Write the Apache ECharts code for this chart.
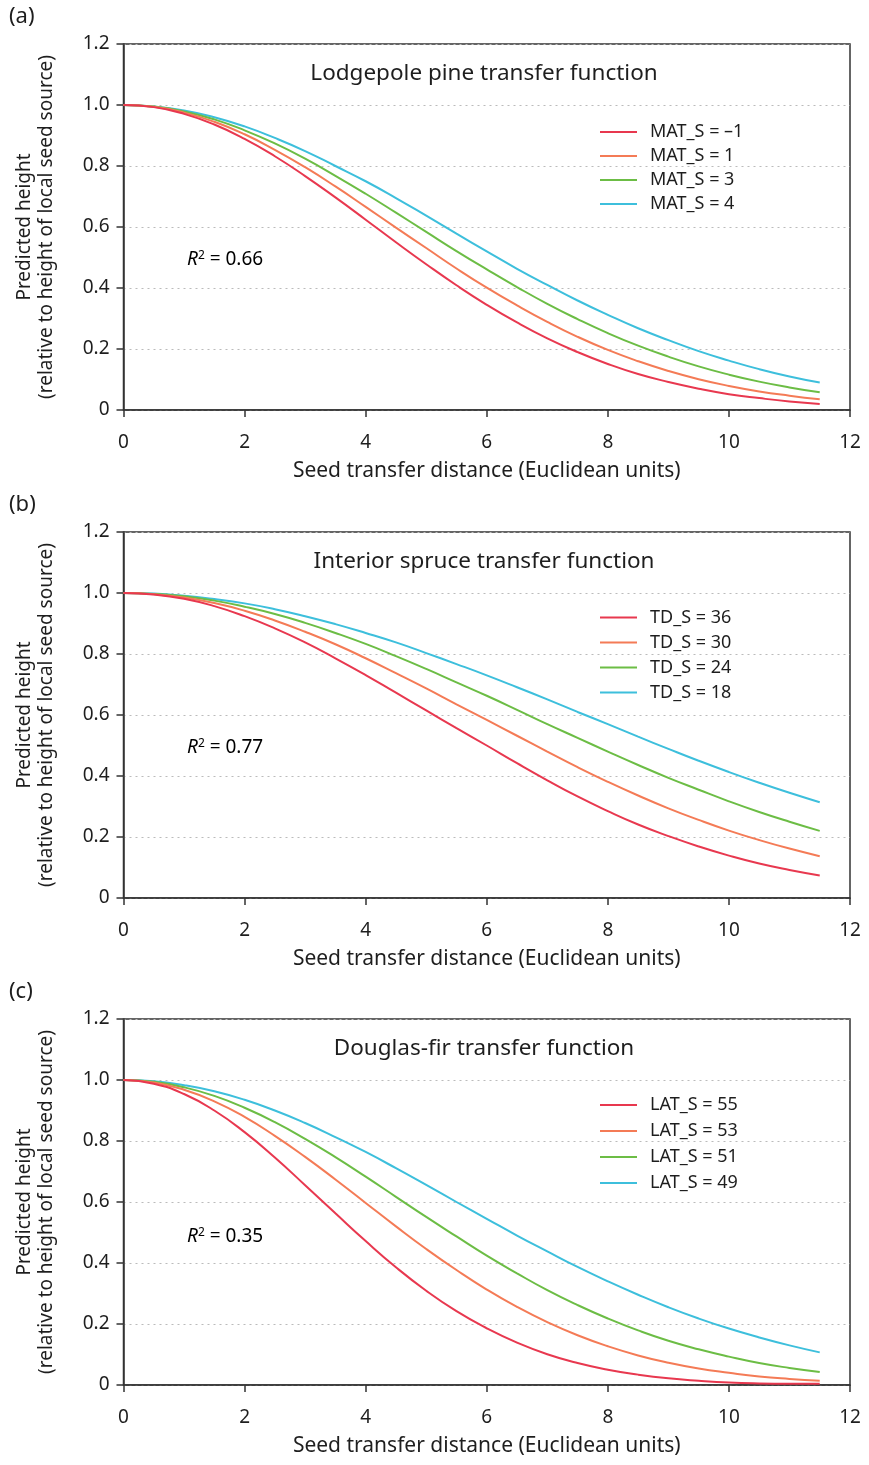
<!DOCTYPE html>
<html><head><meta charset="utf-8">
<script src="https://cdn.jsdelivr.net/npm/echarts@6/dist/echarts.min.js"></script>
<style>html,body{margin:0;padding:0;background:#fff}#c{width:869px;height:1465px}</style>
</head><body><div id="c"></div>
<script>
const distance = [0,0.5,1,1.5,2,2.5,3,3.5,4,4.5,5,5.5,6,6.5,7,7.5,8,8.5,9,9.5,10,10.5,11,11.5];
const xTicks = [0,2,4,6,8,10,12];
const yTicks = [0,0.2,0.4,0.6,0.8,1.0,1.2];

// (a) Lodgepole pine
const matNames = ['MAT_S = \u20131','MAT_S = 1','MAT_S = 3','MAT_S = 4'];
const matM1 = [1,0.993,0.971,0.936,0.889,0.832,0.767,0.697,0.624,0.550,0.478,0.409,0.345,0.287,0.235,0.190,0.151,0.118,0.092,0.070,0.052,0.039,0.028,0.020];
const mat1  = [1,0.994,0.975,0.945,0.904,0.853,0.796,0.733,0.666,0.598,0.531,0.464,0.401,0.343,0.289,0.240,0.197,0.160,0.128,0.101,0.079,0.061,0.047,0.035];
const mat3  = [1,0.995,0.979,0.953,0.917,0.874,0.824,0.768,0.709,0.647,0.584,0.521,0.461,0.403,0.348,0.298,0.252,0.211,0.175,0.143,0.116,0.093,0.074,0.058];
const mat4  = [1,0.995,0.982,0.960,0.930,0.892,0.849,0.800,0.750,0.695,0.637,0.578,0.520,0.463,0.410,0.359,0.312,0.268,0.229,0.193,0.162,0.134,0.110,0.090];

// (b) Interior spruce
const tdNames = ['TD_S = 36','TD_S = 30','TD_S = 24','TD_S = 18'];
const td36 = [1,0.995,0.981,0.957,0.924,0.884,0.838,0.786,0.731,0.673,0.615,0.557,0.500,0.442,0.386,0.333,0.285,0.241,0.203,0.169,0.139,0.113,0.092,0.074];
const td30 = [1,0.996,0.985,0.967,0.942,0.910,0.873,0.832,0.786,0.737,0.687,0.635,0.584,0.532,0.480,0.429,0.381,0.336,0.294,0.256,0.221,0.190,0.162,0.137];
const td24 = [1,0.997,0.989,0.975,0.955,0.931,0.902,0.869,0.833,0.793,0.751,0.707,0.663,0.617,0.570,0.525,0.480,0.436,0.394,0.355,0.317,0.282,0.250,0.220];
const td18 = [1,0.998,0.991,0.980,0.966,0.947,0.924,0.898,0.869,0.838,0.803,0.767,0.730,0.691,0.651,0.610,0.570,0.529,0.489,0.450,0.413,0.378,0.345,0.314];

// (c) Douglas-fir
const latNames = ['LAT_S = 55','LAT_S = 53','LAT_S = 51','LAT_S = 49'];
const lat55 = [1,0.988,0.954,0.900,0.829,0.746,0.655,0.563,0.472,0.386,0.309,0.242,0.186,0.139,0.101,0.072,0.050,0.034,0.022,0.014,0.008,0.005,0.004,0.004];
const lat53 = [1,0.992,0.968,0.930,0.879,0.817,0.748,0.674,0.597,0.520,0.446,0.377,0.313,0.256,0.206,0.163,0.127,0.097,0.073,0.054,0.040,0.028,0.020,0.014];
const lat51 = [1,0.994,0.976,0.948,0.909,0.862,0.807,0.747,0.683,0.617,0.551,0.487,0.424,0.366,0.311,0.262,0.218,0.179,0.145,0.117,0.093,0.072,0.056,0.043];
const lat49 = [1,0.996,0.983,0.963,0.935,0.900,0.859,0.813,0.764,0.711,0.656,0.600,0.545,0.490,0.438,0.387,0.340,0.296,0.255,0.218,0.185,0.156,0.130,0.107];

const colors = ['#e8384f','#f47b56','#6cbd45','#3dbfdc'];
const FONT = '"Noto Sans"';
const TXT = '#1e1e1e';
const panels = [
  {top:44, names:matNames, data:[matM1,mat1,mat3,mat4], title:'Lodgepole pine transfer function', r2:'0.66', letter:'(a)', legTop:115, gap:24, r2y:260},
  {top:532, names:tdNames, data:[td36,td30,td24,td18], title:'Interior spruce transfer function', r2:'0.77', letter:'(b)', legTop:600, gap:25, r2y:748},
  {top:1019, names:latNames, data:[lat55,lat53,lat51,lat49], title:'Douglas-fir transfer function', r2:'0.35', letter:'(c)', legTop:1087, gap:26, r2y:1237}
];

const grid=[], xAxis=[], yAxis=[], series=[], legend=[], graphic=[];
panels.forEach((p,k)=>{
  grid.push({left:123.5, right:19, top:p.top, height:366, show:true, borderColor:'#333', borderWidth:1.5, containLabel:false});
  xAxis.push({type:'value', gridIndex:k, min:0, max:12, interval:2,
    name:'Seed transfer distance (Euclidean units)', nameLocation:'middle', nameGap:51,
    nameTextStyle:{fontFamily:FONT, fontSize:21, color:TXT},
    axisLine:{show:true, lineStyle:{color:'#333', width:1.5}},
    axisTick:{show:true, inside:false, length:7, lineStyle:{color:'#333', width:1.5}},
    axisLabel:{fontFamily:FONT, fontSize:19, color:TXT, margin:23},
    splitLine:{show:false}});
  yAxis.push({type:'value', gridIndex:k, min:0, max:1.2, interval:0.2,
    name:'Predicted height\n(relative to height of local seed source)', nameLocation:'middle', nameGap:66,
    nameTextStyle:{fontFamily:FONT, fontSize:19, color:TXT, lineHeight:22},
    axisLine:{show:true, lineStyle:{color:'#333', width:1.5}},
    axisTick:{show:true, inside:false, length:7, lineStyle:{color:'#333', width:1.5}},
    axisLabel:{fontFamily:FONT, fontSize:19, color:TXT, margin:14,
      formatter:v=> v===0 ? '0' : v.toFixed(1)},
    splitLine:{show:true, lineStyle:{color:'#bbb', type:[2,4], width:1.2}}});
  p.data.forEach((ys,i)=>{
    series.push({type:'line', name:p.names[i], xAxisIndex:k, yAxisIndex:k, symbol:'none', smooth:true,
      lineStyle:{color:colors[i], width:2}, itemStyle:{color:colors[i]},
      data: distance.map((x,j)=>[x, ys[j]]), z:3+(3-i)});
  });
  legend.push({data:p.names, orient:'vertical', left:595, top:p.legTop, itemGap:0, icon:'rect',
    itemWidth:37, itemHeight:2, selectedMode:false,
    textStyle:{fontFamily:FONT, fontSize:18, color:TXT, lineHeight:p.gap, padding:[0,0,0,8]}});
  graphic.push({type:'text', left:9, top:p.top-38, style:{text:p.letter, font:'22px '+FONT, fill:TXT}});
  graphic.push({type:'text', x:484, y:p.top+30, style:{text:p.title, font:'22.5px '+FONT, fill:TXT, textAlign:'center', textVerticalAlign:'middle'}});
  graphic.push({type:'text', x:187, y:p.r2y, style:{
    text:'{i|R}{s|2}{n| = 0'+p.r2.slice(1)+'}', textVerticalAlign:'middle',
    rich:{i:{fontFamily:FONT, fontStyle:'italic', fontSize:19, color:TXT},
          s:{fontFamily:FONT, fontSize:12, color:TXT, verticalAlign:'top', padding:[0,0,8,0]},
          n:{fontFamily:FONT, fontSize:19, color:TXT}}}});
});

const chart = echarts.init(document.getElementById('c'), null, {renderer:'canvas'});
chart.setOption({animation:false, backgroundColor:'#fff', grid, xAxis, yAxis, series, legend, graphic});
</script></body></html>
